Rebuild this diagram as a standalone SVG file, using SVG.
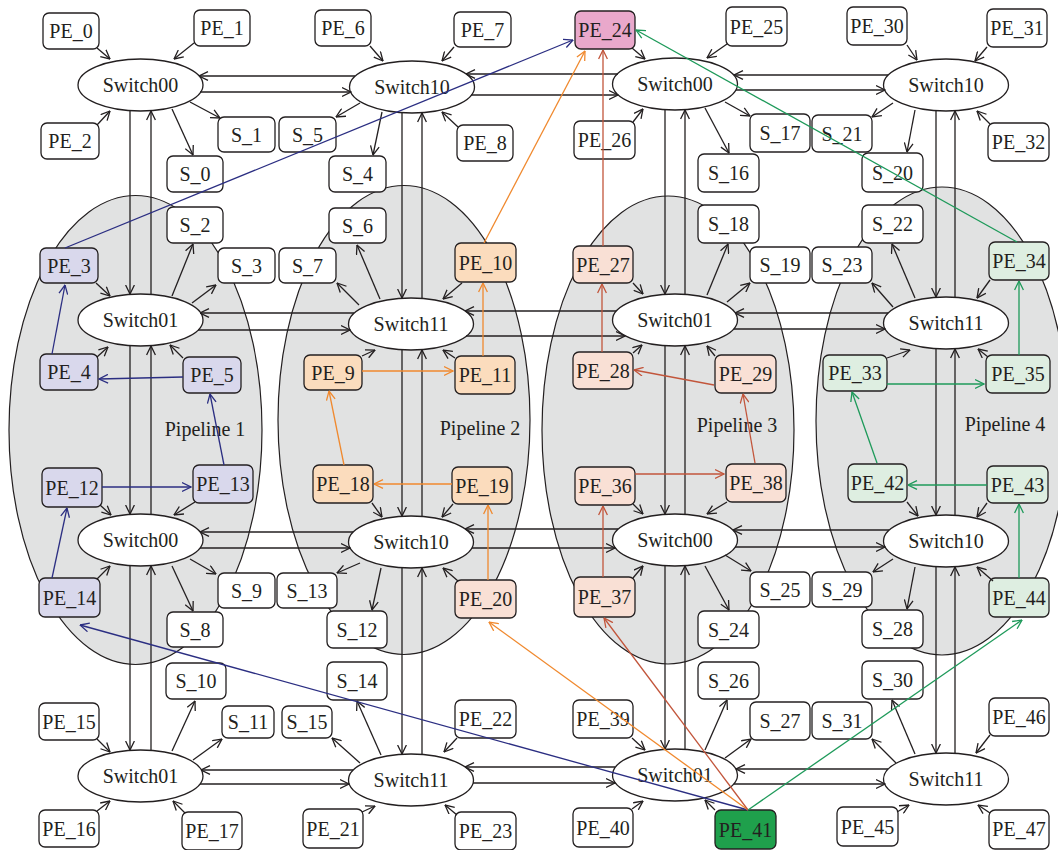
<svg xmlns="http://www.w3.org/2000/svg" width="1058" height="850" viewBox="0 0 1058 850">
<style>
.bg{fill:#ffffff}
.pl{fill:#e1e2e2;stroke:#231f20;stroke-width:1.2}
.sw{fill:#ffffff;stroke:#231f20;stroke-width:1.3}
.bx{fill:#ffffff;stroke:#231f20;stroke-width:1.3}
.p1{fill:#d9d8ec}
.p2{fill:#fbdcbd}
.p3{fill:#f9e0d5}
.p4{fill:#deeee1}
.pk{fill:#e9a8cb}
.dg{fill:#1fa04c}
text{font-family:"Liberation Serif","DejaVu Serif",serif;font-size:20px;fill:#231f20;text-anchor:middle}
.k line{stroke:#231f20;stroke-width:1.3;fill:none;marker-end:url(#ak)}
.nv line{stroke:#2b2e82;stroke-width:1.3;marker-end:url(#an)}
.or line{stroke:#f0892e;stroke-width:1.3;marker-end:url(#ao)}
.br line{stroke:#c2553b;stroke-width:1.3;marker-end:url(#ab)}
.gr line{stroke:#1e9a5a;stroke-width:1.3;marker-end:url(#ag)}
</style>
<defs>
<marker id="ak" viewBox="0 0 10 10" refX="9.5" refY="5" markerWidth="10" markerHeight="10" markerUnits="userSpaceOnUse" orient="auto"><path d="M0.5,0.6 L9.5,5 L0.5,9.4" fill="none" stroke="#231f20" stroke-width="1.3"/></marker>
<marker id="an" viewBox="0 0 10 10" refX="9.5" refY="5" markerWidth="10" markerHeight="10" markerUnits="userSpaceOnUse" orient="auto"><path d="M0.5,0.6 L9.5,5 L0.5,9.4" fill="none" stroke="#2b2e82" stroke-width="1.3"/></marker>
<marker id="ao" viewBox="0 0 10 10" refX="9.5" refY="5" markerWidth="10" markerHeight="10" markerUnits="userSpaceOnUse" orient="auto"><path d="M0.5,0.6 L9.5,5 L0.5,9.4" fill="none" stroke="#f0892e" stroke-width="1.3"/></marker>
<marker id="ab" viewBox="0 0 10 10" refX="9.5" refY="5" markerWidth="10" markerHeight="10" markerUnits="userSpaceOnUse" orient="auto"><path d="M0.5,0.6 L9.5,5 L0.5,9.4" fill="none" stroke="#c2553b" stroke-width="1.3"/></marker>
<marker id="ag" viewBox="0 0 10 10" refX="9.5" refY="5" markerWidth="10" markerHeight="10" markerUnits="userSpaceOnUse" orient="auto"><path d="M0.5,0.6 L9.5,5 L0.5,9.4" fill="none" stroke="#1e9a5a" stroke-width="1.3"/></marker>
</defs>
<rect class="bg" x="0" y="0" width="1058" height="850"/>

<g id="pipelines">
<g id="pipeline1"><ellipse class="pl" cx="135.5" cy="430" rx="126.5" ry="234.5"/><text x="205" y="436">Pipeline 1</text></g>
<g id="pipeline2"><ellipse class="pl" cx="404" cy="420" rx="126" ry="234.5"/><text x="480" y="435">Pipeline 2</text></g>
<g id="pipeline3"><ellipse class="pl" cx="668" cy="430" rx="126" ry="234"/><text x="737" y="432">Pipeline 3</text></g>
<g id="pipeline4"><ellipse class="pl" cx="942" cy="421" rx="126" ry="234"/><text x="1005" y="431">Pipeline 4</text></g>
</g>

<g id="switches">
<g id="sw_c1r1"><ellipse class="sw" cx="140.5" cy="85" rx="62.5" ry="26"/><text x="140.5" y="92">Switch00</text></g>
<g id="sw_c2r1"><ellipse class="sw" cx="412" cy="87" rx="62.5" ry="26"/><text x="412" y="94">Switch10</text></g>
<g id="sw_c3r1"><ellipse class="sw" cx="675" cy="84" rx="62.5" ry="26"/><text x="675" y="91">Switch00</text></g>
<g id="sw_c4r1"><ellipse class="sw" cx="946" cy="85" rx="62.5" ry="26"/><text x="946" y="92">Switch10</text></g>
<g id="sw_c1r2"><ellipse class="sw" cx="140.5" cy="320" rx="62.5" ry="26"/><text x="140.5" y="327">Switch01</text></g>
<g id="sw_c2r2"><ellipse class="sw" cx="411" cy="324" rx="62.5" ry="26"/><text x="411" y="331">Switch11</text></g>
<g id="sw_c3r2"><ellipse class="sw" cx="675" cy="320" rx="62.5" ry="26"/><text x="675" y="327">Switch01</text></g>
<g id="sw_c4r2"><ellipse class="sw" cx="946" cy="323" rx="62.5" ry="26"/><text x="946" y="330">Switch11</text></g>
<g id="sw_c1r3"><ellipse class="sw" cx="140.5" cy="540" rx="62.5" ry="26"/><text x="140.5" y="547">Switch00</text></g>
<g id="sw_c2r3"><ellipse class="sw" cx="411" cy="542" rx="62.5" ry="26"/><text x="411" y="549">Switch10</text></g>
<g id="sw_c3r3"><ellipse class="sw" cx="675" cy="540" rx="62.5" ry="26"/><text x="675" y="547">Switch00</text></g>
<g id="sw_c4r3"><ellipse class="sw" cx="946" cy="541" rx="62.5" ry="26"/><text x="946" y="548">Switch10</text></g>
<g id="sw_c1r4"><ellipse class="sw" cx="140.5" cy="776" rx="62.5" ry="26"/><text x="140.5" y="783">Switch01</text></g>
<g id="sw_c2r4"><ellipse class="sw" cx="411" cy="780" rx="62.5" ry="26"/><text x="411" y="787">Switch11</text></g>
<g id="sw_c3r4"><ellipse class="sw" cx="675" cy="775" rx="62.5" ry="26"/><text x="675" y="782">Switch01</text></g>
<g id="sw_c4r4"><ellipse class="sw" cx="946" cy="779" rx="62.5" ry="26"/><text x="946" y="786">Switch11</text></g>
</g>

<g id="stores">
<g id="S_0"><rect class="bx" x="167" y="156" width="56" height="36" rx="6"/><text x="195" y="181">S_0</text></g>
<g id="S_1"><rect class="bx" x="218" y="117" width="57" height="35" rx="6"/><text x="246.5" y="141.5">S_1</text></g>
<g id="S_2"><rect class="bx" x="167" y="207" width="56" height="36" rx="6"/><text x="195" y="232">S_2</text></g>
<g id="S_3"><rect class="bx" x="218" y="248" width="57" height="35" rx="6"/><text x="246.5" y="272.5">S_3</text></g>
<g id="S_4"><rect class="bx" x="329" y="156" width="57" height="36" rx="6"/><text x="357.5" y="181">S_4</text></g>
<g id="S_5"><rect class="bx" x="279" y="117" width="57" height="35" rx="6"/><text x="307.5" y="141.5">S_5</text></g>
<g id="S_6"><rect class="bx" x="329" y="208" width="57" height="35" rx="6"/><text x="357.5" y="232.5">S_6</text></g>
<g id="S_7"><rect class="bx" x="279" y="248" width="57" height="35" rx="6"/><text x="307.5" y="272.5">S_7</text></g>
<g id="S_8"><rect class="bx" x="167" y="612" width="56" height="35" rx="6"/><text x="195" y="636.5">S_8</text></g>
<g id="S_9"><rect class="bx" x="218" y="573" width="57" height="35" rx="6"/><text x="246.5" y="597.5">S_9</text></g>
<g id="S_10"><rect class="bx" x="166" y="663" width="60" height="36" rx="6"/><text x="196" y="688">S_10</text></g>
<g id="S_11"><rect class="bx" x="222" y="706" width="52" height="32" rx="6"/><text x="248" y="729">S_11</text></g>
<g id="S_12"><rect class="bx" x="327" y="611" width="60" height="37" rx="6"/><text x="357" y="636.5">S_12</text></g>
<g id="S_13"><rect class="bx" x="277" y="573" width="60" height="35" rx="6"/><text x="307" y="597.5">S_13</text></g>
<g id="S_14"><rect class="bx" x="327" y="662" width="60" height="38" rx="6"/><text x="357" y="688">S_14</text></g>
<g id="S_15"><rect class="bx" x="282" y="706" width="50" height="32" rx="6"/><text x="307" y="729">S_15</text></g>
<g id="S_16"><rect class="bx" x="698" y="154" width="61" height="38" rx="6"/><text x="728.5" y="180">S_16</text></g>
<g id="S_17"><rect class="bx" x="750" y="114" width="60" height="38" rx="6"/><text x="780" y="140">S_17</text></g>
<g id="S_18"><rect class="bx" x="698" y="205" width="61" height="38" rx="6"/><text x="728.5" y="231">S_18</text></g>
<g id="S_19"><rect class="bx" x="750" y="247" width="60" height="36" rx="6"/><text x="780" y="272">S_19</text></g>
<g id="S_20"><rect class="bx" x="862" y="153" width="61" height="39" rx="6"/><text x="892.5" y="179.5">S_20</text></g>
<g id="S_21"><rect class="bx" x="812" y="115" width="60" height="37" rx="6"/><text x="842" y="140.5">S_21</text></g>
<g id="S_22"><rect class="bx" x="862" y="205" width="61" height="38" rx="6"/><text x="892.5" y="231">S_22</text></g>
<g id="S_23"><rect class="bx" x="812" y="247" width="60" height="36" rx="6"/><text x="842" y="272">S_23</text></g>
<g id="S_24"><rect class="bx" x="698" y="611" width="61" height="37" rx="6"/><text x="728.5" y="636.5">S_24</text></g>
<g id="S_25"><rect class="bx" x="750" y="572" width="60" height="35" rx="6"/><text x="780" y="596.5">S_25</text></g>
<g id="S_26"><rect class="bx" x="698" y="662" width="61" height="37" rx="6"/><text x="728.5" y="687.5">S_26</text></g>
<g id="S_27"><rect class="bx" x="750" y="702" width="60" height="38" rx="6"/><text x="780" y="728">S_27</text></g>
<g id="S_28"><rect class="bx" x="862" y="610" width="61" height="38" rx="6"/><text x="892.5" y="636">S_28</text></g>
<g id="S_29"><rect class="bx" x="812" y="572" width="60" height="35" rx="6"/><text x="842" y="596.5">S_29</text></g>
<g id="S_30"><rect class="bx" x="862" y="661" width="61" height="38" rx="6"/><text x="892.5" y="687">S_30</text></g>
<g id="S_31"><rect class="bx" x="812" y="702" width="60" height="37" rx="6"/><text x="842" y="727.5">S_31</text></g>
</g>

<g id="pes">
<g id="PE_0"><rect class="bx" x="43" y="13" width="56" height="36" rx="6"/><text x="71" y="38">PE_0</text></g>
<g id="PE_1"><rect class="bx" x="194" y="10" width="56" height="36" rx="6"/><text x="222" y="35">PE_1</text></g>
<g id="PE_2"><rect class="bx" x="41" y="123" width="58" height="36" rx="6"/><text x="70" y="148">PE_2</text></g>
<g id="PE_3"><rect class="bx p1" x="40" y="248" width="58" height="35" rx="6"/><text x="69" y="272.5">PE_3</text></g>
<g id="PE_4"><rect class="bx p1" x="40" y="354" width="58" height="36" rx="6"/><text x="69" y="379">PE_4</text></g>
<g id="PE_5"><rect class="bx p1" x="183" y="357" width="58" height="36" rx="6"/><text x="212" y="382">PE_5</text></g>
<g id="PE_6"><rect class="bx" x="315" y="10" width="56" height="36" rx="6"/><text x="343" y="35">PE_6</text></g>
<g id="PE_7"><rect class="bx" x="454" y="12" width="57" height="35" rx="6"/><text x="482.5" y="36.5">PE_7</text></g>
<g id="PE_8"><rect class="bx" x="457" y="125" width="56" height="36" rx="6"/><text x="485" y="150">PE_8</text></g>
<g id="PE_9"><rect class="bx p2" x="304" y="355" width="58" height="35" rx="6"/><text x="333" y="379.5">PE_9</text></g>
<g id="PE_10"><rect class="bx p2" x="455" y="243" width="61" height="39" rx="6"/><text x="485.5" y="269.5">PE_10</text></g>
<g id="PE_11"><rect class="bx p2" x="455" y="356" width="60" height="38" rx="6"/><text x="485" y="382">PE_11</text></g>
<g id="PE_12"><rect class="bx p1" x="42" y="468" width="60" height="39" rx="6"/><text x="72" y="494.5">PE_12</text></g>
<g id="PE_13"><rect class="bx p1" x="193" y="465" width="60" height="38" rx="6"/><text x="223" y="491">PE_13</text></g>
<g id="PE_14"><rect class="bx p1" x="39" y="578" width="61" height="39" rx="6"/><text x="69.5" y="604.5">PE_14</text></g>
<g id="PE_15"><rect class="bx" x="39" y="703" width="60" height="37" rx="6"/><text x="69" y="728.5">PE_15</text></g>
<g id="PE_16"><rect class="bx" x="39" y="810" width="60" height="37" rx="6"/><text x="69" y="835.5">PE_16</text></g>
<g id="PE_17"><rect class="bx" x="182" y="812" width="60" height="38" rx="6"/><text x="212" y="838">PE_17</text></g>
<g id="PE_18"><rect class="bx p2" x="313" y="465" width="60" height="38" rx="6"/><text x="343" y="491">PE_18</text></g>
<g id="PE_19"><rect class="bx p2" x="452" y="467" width="60" height="37" rx="6"/><text x="482" y="492.5">PE_19</text></g>
<g id="PE_20"><rect class="bx p3" x="455" y="580" width="61" height="38" rx="6"/><text x="485.5" y="606">PE_20</text></g>
<g id="PE_21"><rect class="bx" x="303" y="809" width="60" height="39" rx="6"/><text x="333" y="835.5">PE_21</text></g>
<g id="PE_22"><rect class="bx" x="455" y="700" width="61" height="38" rx="6"/><text x="485.5" y="726">PE_22</text></g>
<g id="PE_23"><rect class="bx" x="455" y="812" width="61" height="38" rx="6"/><text x="485.5" y="838">PE_23</text></g>
<g id="PE_24"><rect class="bx pk" x="575" y="11" width="60" height="38" rx="6"/><text x="605" y="37">PE_24</text></g>
<g id="PE_25"><rect class="bx" x="726" y="7" width="61" height="39" rx="6"/><text x="756.5" y="33.5">PE_25</text></g>
<g id="PE_26"><rect class="bx" x="574" y="121" width="61" height="38" rx="6"/><text x="604.5" y="147">PE_26</text></g>
<g id="PE_27"><rect class="bx p3" x="573" y="246" width="60" height="37" rx="6"/><text x="603" y="271.5">PE_27</text></g>
<g id="PE_28"><rect class="bx p3" x="573" y="352" width="60" height="37" rx="6"/><text x="603" y="377.5">PE_28</text></g>
<g id="PE_29"><rect class="bx p3" x="715" y="355" width="61" height="38" rx="6"/><text x="745.5" y="381">PE_29</text></g>
<g id="PE_30"><rect class="bx" x="847" y="7" width="60" height="38" rx="6"/><text x="877" y="33">PE_30</text></g>
<g id="PE_31"><rect class="bx" x="987" y="9" width="60" height="38" rx="6"/><text x="1017" y="35">PE_31</text></g>
<g id="PE_32"><rect class="bx" x="988" y="123" width="61" height="38" rx="6"/><text x="1018.5" y="149">PE_32</text></g>
<g id="PE_33"><rect class="bx p4" x="823" y="355" width="64" height="36" rx="6"/><text x="855" y="380">PE_33</text></g>
<g id="PE_34"><rect class="bx p4" x="989" y="242" width="60" height="38" rx="6"/><text x="1019" y="268">PE_34</text></g>
<g id="PE_35"><rect class="bx p4" x="986" y="355" width="64" height="38" rx="6"/><text x="1018" y="381">PE_35</text></g>
<g id="PE_36"><rect class="bx p3" x="575" y="467" width="60" height="38" rx="6"/><text x="605" y="493">PE_36</text></g>
<g id="PE_37"><rect class="bx p3" x="574" y="577" width="61" height="40" rx="6"/><text x="604.5" y="604">PE_37</text></g>
<g id="PE_38"><rect class="bx p3" x="726" y="464" width="60" height="38" rx="6"/><text x="756" y="490">PE_38</text></g>
<g id="PE_39"><rect class="bx" x="573" y="700" width="60" height="38" rx="6"/><text x="603" y="726">PE_39</text></g>
<g id="PE_40"><rect class="bx" x="573" y="808" width="60" height="39" rx="6"/><text x="603" y="834.5">PE_40</text></g>
<g id="PE_41"><rect class="bx dg" x="715" y="810" width="61" height="39" rx="6"/><text x="745.5" y="836.5">PE_41</text></g>
<g id="PE_42"><rect class="bx p4" x="848" y="464" width="59" height="38" rx="6"/><text x="877.5" y="490">PE_42</text></g>
<g id="PE_43"><rect class="bx p4" x="987" y="466" width="61" height="37" rx="6"/><text x="1017.5" y="491.5">PE_43</text></g>
<g id="PE_44"><rect class="bx p4" x="989" y="578" width="60" height="39" rx="6"/><text x="1019" y="604.5">PE_44</text></g>
<g id="PE_45"><rect class="bx" x="837" y="807" width="61" height="39" rx="6"/><text x="867.5" y="833.5">PE_45</text></g>
<g id="PE_46"><rect class="bx" x="989" y="698" width="60" height="38" rx="6"/><text x="1019" y="724">PE_46</text></g>
<g id="PE_47"><rect class="bx" x="989" y="810" width="60" height="39" rx="6"/><text x="1019" y="836">PE_47</text></g>
</g>

<g id="connectors">
<g class="k">
<!-- horizontal row 1 -->
<line x1="355" y1="76" x2="199" y2="76"/><line x1="200" y1="92" x2="351" y2="92"/>
<line x1="618" y1="74" x2="466" y2="74"/><line x1="471" y1="95" x2="618" y2="95"/>
<line x1="888" y1="75" x2="734" y2="75"/><line x1="736" y1="90" x2="885" y2="90"/>
<!-- row 2 -->
<line x1="354" y1="313" x2="200" y2="313"/><line x1="198" y1="330" x2="350" y2="330"/>
<line x1="616" y1="311" x2="465" y2="311"/><line x1="466" y1="336" x2="625" y2="336"/>
<line x1="888" y1="313" x2="735" y2="313"/><line x1="734" y1="329" x2="885" y2="329"/>
<!-- row 3 -->
<line x1="353" y1="532" x2="200" y2="532"/><line x1="200" y1="548" x2="350" y2="548"/>
<line x1="618" y1="529" x2="465" y2="529"/><line x1="472" y1="548" x2="615" y2="548"/>
<line x1="889" y1="530" x2="733" y2="530"/><line x1="735" y1="547" x2="885" y2="547"/>
<!-- row 4 -->
<line x1="353" y1="770" x2="201" y2="770"/><line x1="200" y1="784" x2="349" y2="784"/>
<line x1="615" y1="767" x2="465" y2="767"/><line x1="473" y1="783" x2="615" y2="783"/>
<line x1="888" y1="769" x2="736" y2="769"/><line x1="734" y1="784" x2="885" y2="784"/>
<!-- vertical col1 -->
<line x1="130" y1="111" x2="130" y2="294"/><line x1="151" y1="294" x2="151" y2="111"/>
<line x1="130" y1="346" x2="130" y2="514"/><line x1="151" y1="514" x2="151" y2="346"/>
<line x1="130" y1="566" x2="130" y2="750"/><line x1="151" y1="750" x2="151" y2="566"/>
<!-- col2 -->
<line x1="402" y1="113" x2="402" y2="298"/><line x1="422" y1="298" x2="422" y2="113"/>
<line x1="402" y1="350" x2="402" y2="516"/><line x1="422" y1="516" x2="422" y2="350"/>
<line x1="402" y1="568" x2="402" y2="754"/><line x1="422" y1="754" x2="422" y2="568"/>
<!-- col3 -->
<line x1="665" y1="110" x2="665" y2="294"/><line x1="685" y1="294" x2="685" y2="110"/>
<line x1="665" y1="346" x2="665" y2="514"/><line x1="685" y1="514" x2="685" y2="346"/>
<line x1="665" y1="566" x2="665" y2="749"/><line x1="685" y1="749" x2="685" y2="566"/>
<!-- col4 -->
<line x1="936" y1="111" x2="936" y2="297"/><line x1="955" y1="297" x2="955" y2="111"/>
<line x1="936" y1="349" x2="936" y2="515"/><line x1="955" y1="515" x2="955" y2="349"/>
<line x1="936" y1="567" x2="936" y2="753"/><line x1="955" y1="753" x2="955" y2="567"/>
<!-- col1 node links -->
<line x1="97" y1="48" x2="110" y2="59"/>
<line x1="194" y1="43" x2="174" y2="59"/>
<line x1="97" y1="125" x2="110" y2="111"/>
<line x1="190" y1="102" x2="220" y2="118"/>
<line x1="172" y1="109" x2="193" y2="155"/>
<line x1="172" y1="296" x2="193" y2="244"/>
<line x1="192" y1="303" x2="216" y2="285"/>
<line x1="96" y1="283" x2="110" y2="296"/>
<line x1="97" y1="357" x2="108" y2="347"/>
<line x1="183" y1="358" x2="170" y2="345"/>
<line x1="100" y1="505" x2="111" y2="515"/>
<line x1="195" y1="502" x2="174" y2="515"/>
<line x1="97" y1="579" x2="110" y2="566"/>
<line x1="190" y1="559" x2="216" y2="574"/>
<line x1="172" y1="566" x2="193" y2="611"/>
<line x1="97" y1="739" x2="110" y2="752"/>
<line x1="172" y1="751" x2="195" y2="701"/>
<line x1="193" y1="760" x2="222" y2="739"/>
<line x1="97" y1="811" x2="110" y2="801"/>
<line x1="185" y1="813" x2="173" y2="801"/>
<!-- col2 node links -->
<line x1="370" y1="46" x2="383" y2="61"/>
<line x1="454" y1="47" x2="442" y2="61"/>
<line x1="458" y1="127" x2="442" y2="112"/>
<line x1="360" y1="103" x2="336" y2="117"/>
<line x1="382" y1="112" x2="373" y2="155"/>
<line x1="380" y1="299" x2="357" y2="245"/>
<line x1="359" y1="305" x2="337" y2="283"/>
<line x1="462" y1="283" x2="443" y2="299"/>
<line x1="362" y1="356" x2="375" y2="350"/>
<line x1="455" y1="358" x2="443" y2="350"/>
<line x1="372" y1="503" x2="382" y2="517"/>
<line x1="453" y1="504" x2="442" y2="517"/>
<line x1="360" y1="563" x2="337" y2="573"/>
<line x1="381" y1="568" x2="372" y2="610"/>
<line x1="458" y1="581" x2="443" y2="568"/>
<line x1="381" y1="755" x2="357" y2="701"/>
<line x1="360" y1="763" x2="332" y2="738"/>
<line x1="457" y1="738" x2="444" y2="752"/>
<line x1="362" y1="812" x2="375" y2="806"/>
<line x1="457" y1="815" x2="445" y2="805"/>
<!-- col3 node links -->
<line x1="632" y1="48" x2="645" y2="59"/>
<line x1="727" y1="44" x2="707" y2="58"/>
<line x1="633" y1="122" x2="643" y2="109"/>
<line x1="725" y1="102" x2="750" y2="116"/>
<line x1="705" y1="108" x2="729" y2="153"/>
<line x1="707" y1="295" x2="728" y2="244"/>
<line x1="727" y1="302" x2="750" y2="283"/>
<line x1="633" y1="283" x2="643" y2="294"/>
<line x1="633" y1="353" x2="642" y2="345"/>
<line x1="715" y1="356" x2="707" y2="346"/>
<line x1="633" y1="504" x2="643" y2="514"/>
<line x1="727" y1="502" x2="707" y2="514"/>
<line x1="633" y1="578" x2="643" y2="566"/>
<line x1="725" y1="555" x2="751" y2="571"/>
<line x1="705" y1="566" x2="729" y2="610"/>
<line x1="632" y1="738" x2="645" y2="750"/>
<line x1="705" y1="750" x2="727" y2="700"/>
<line x1="725" y1="758" x2="751" y2="739"/>
<line x1="632" y1="809" x2="643" y2="801"/>
<line x1="715" y1="810" x2="705" y2="800"/>
<!-- col4 node links -->
<line x1="907" y1="45" x2="917" y2="60"/>
<line x1="987" y1="47" x2="975" y2="61"/>
<line x1="990" y1="124" x2="977" y2="111"/>
<line x1="893" y1="103" x2="872" y2="117"/>
<line x1="915" y1="110" x2="907" y2="152"/>
<line x1="915" y1="298" x2="892" y2="244"/>
<line x1="893" y1="307" x2="872" y2="283"/>
<line x1="990" y1="280" x2="977" y2="298"/>
<line x1="887" y1="358" x2="910" y2="350"/>
<line x1="988" y1="357" x2="978" y2="349"/>
<line x1="907" y1="502" x2="918" y2="516"/>
<line x1="987" y1="503" x2="977" y2="517"/>
<line x1="893" y1="559" x2="873" y2="572"/>
<line x1="915" y1="567" x2="907" y2="609"/>
<line x1="993" y1="581" x2="977" y2="567"/>
<line x1="915" y1="754" x2="892" y2="700"/>
<line x1="896" y1="763" x2="872" y2="739"/>
<line x1="990" y1="735" x2="976" y2="753"/>
<line x1="897" y1="812" x2="909" y2="805"/>
<line x1="990" y1="813" x2="978" y2="805"/>
</g>
<g class="nv">
<line x1="65" y1="248" x2="573" y2="40"/>
<line x1="52" y1="354" x2="65" y2="285"/>
<line x1="183" y1="377" x2="99" y2="379"/>
<line x1="224" y1="465" x2="210" y2="394"/>
<line x1="102" y1="487" x2="191" y2="487"/>
<line x1="52" y1="578" x2="67" y2="508"/>
<line x1="748" y1="810" x2="80" y2="625"/>
</g>
<g class="or">
<line x1="484" y1="243" x2="585" y2="51"/>
<line x1="483" y1="356" x2="483" y2="283"/>
<line x1="362" y1="371" x2="453" y2="371"/>
<line x1="344" y1="465" x2="329" y2="391"/>
<line x1="452" y1="484" x2="374" y2="484"/>
<line x1="488" y1="580" x2="488" y2="505"/>
<line x1="748" y1="810" x2="489" y2="622"/>
</g>
<g class="br">
<line x1="603" y1="246" x2="603" y2="50"/>
<line x1="602" y1="352" x2="602" y2="284"/>
<line x1="714" y1="385" x2="634" y2="370"/>
<line x1="755" y1="463" x2="743" y2="394"/>
<line x1="635" y1="474" x2="724" y2="474"/>
<line x1="603" y1="577" x2="603" y2="506"/>
<line x1="748" y1="810" x2="604" y2="618"/>
</g>
<g class="gr">
<line x1="1017" y1="242" x2="636" y2="30"/>
<line x1="1019" y1="355" x2="1019" y2="281"/>
<line x1="887" y1="384" x2="984" y2="384"/>
<line x1="877" y1="463" x2="852" y2="392"/>
<line x1="987" y1="485" x2="908" y2="485"/>
<line x1="1019" y1="578" x2="1019" y2="504"/>
<line x1="748" y1="810" x2="1022" y2="620"/>
</g>
</g>
</svg>
